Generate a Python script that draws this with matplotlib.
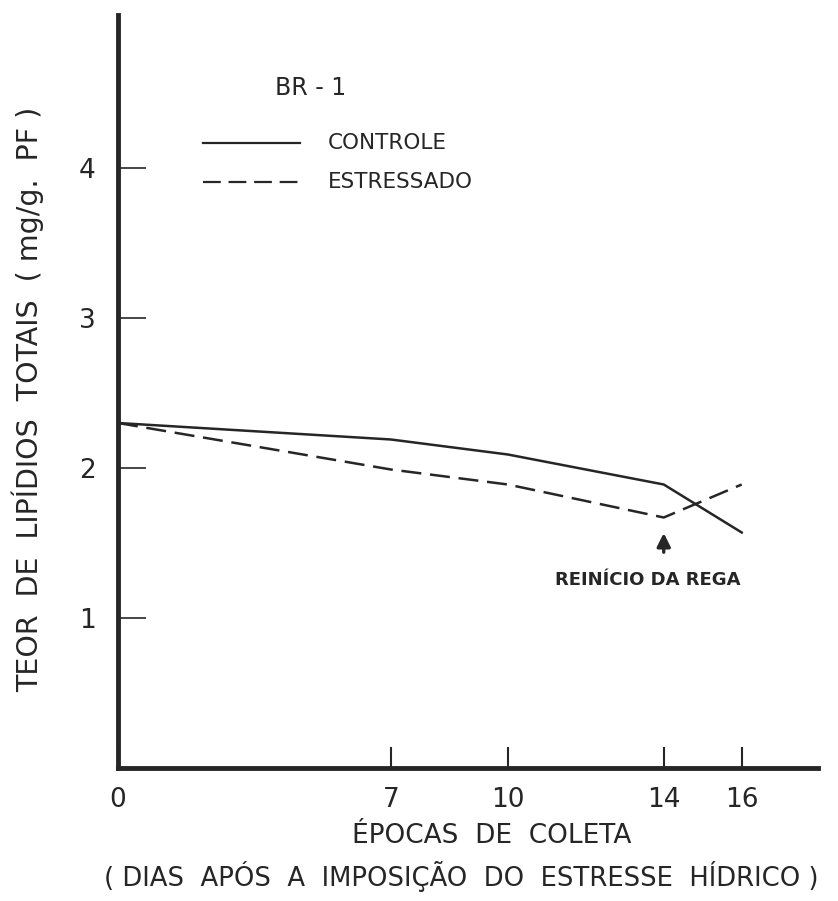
import matplotlib
matplotlib.use("Agg")
import matplotlib.pyplot as plt

days = [0, 7, 10, 14, 16]
controle = [2.30, 2.19, 2.09, 1.89, 1.57]
estressado = [2.30, 1.99, 1.89, 1.67, 1.89]
xticks = [0, 7, 10, 14, 16]
yticks = [1, 2, 3, 4]

ink = "#262626"
fam = ["DejaVu Sans"]

fig = plt.figure(figsize=(8.38, 9.01), dpi=100)
ax = fig.add_axes([0.1408, 0.1476, 0.835, 0.8358])
ax.set_xlim(0, 17.95)
ax.set_ylim(0, 5.02)

ax.plot(days, controle, color=ink, lw=1.8, solid_joinstyle="round")
ax.plot(days, estressado, color=ink, lw=1.8, dashes=(8, 3.5))

for s in ["top", "right"]:
    ax.spines[s].set_visible(False)
for s in ["left", "bottom"]:
    ax.spines[s].set_linewidth(3.5)
    ax.spines[s].set_color(ink)

ax.set_xticks(xticks)
ax.set_xticklabels([str(t) for t in xticks], family=fam, fontsize=19, color=ink)
ax.set_yticks(yticks)
ax.set_yticklabels([str(t) for t in yticks], family=fam, fontsize=19, color=ink)
ax.tick_params(axis="x", direction="in", length=15, width=1.5, color=ink, pad=14)
ax.tick_params(axis="y", direction="in", length=20, width=1.2, color=ink, pad=16)

# legend drawn manually
ax.text(0.225, 0.903, "BR - 1", transform=ax.transAxes, family=fam, fontsize=17,
        color=ink, ha="left", va="center")
ax.plot([0.122, 0.260], [0.830, 0.830], transform=ax.transAxes, color=ink, lw=1.6)
ax.plot([0.122, 0.260], [0.778, 0.778], transform=ax.transAxes, color=ink, lw=1.6,
        dashes=(8, 3.5))
ax.text(0.30, 0.830, "CONTROLE", transform=ax.transAxes, family=fam, fontsize=15.5,
        color=ink, ha="left", va="center")
ax.text(0.30, 0.778, "ESTRESSADO", transform=ax.transAxes, family=fam, fontsize=15.5,
        color=ink, ha="left", va="center")

ax.annotate("", xy=(14, 1.585), xytext=(14, 1.42),
            arrowprops=dict(arrowstyle="-|>", color=ink, lw=2.4, mutation_scale=20))
ax.text(13.6, 1.25, "REINÍCIO DA REGA", family=fam, fontsize=13, fontweight="bold",
        color=ink, ha="center", va="center")

ax.set_ylabel("TEOR  DE  LIPÍDIOS  TOTAIS  ( mg/g.  PF )", family=fam, fontsize=20.5,
              color=ink)
ax.yaxis.set_label_coords(-0.106, 0.489)
fig.text(0.587, 0.072, "ÉPOCAS  DE  COLETA", family=fam, fontsize=19, color=ink,
         ha="center", va="center")
fig.text(0.551, 0.027, "( DIAS  APÓS  A  IMPOSIÇÃO  DO  ESTRESSE  HÍDRICO )", family=fam,
         fontsize=18.6, color=ink, ha="center", va="center")

fig.savefig("out.png", dpi=100)
